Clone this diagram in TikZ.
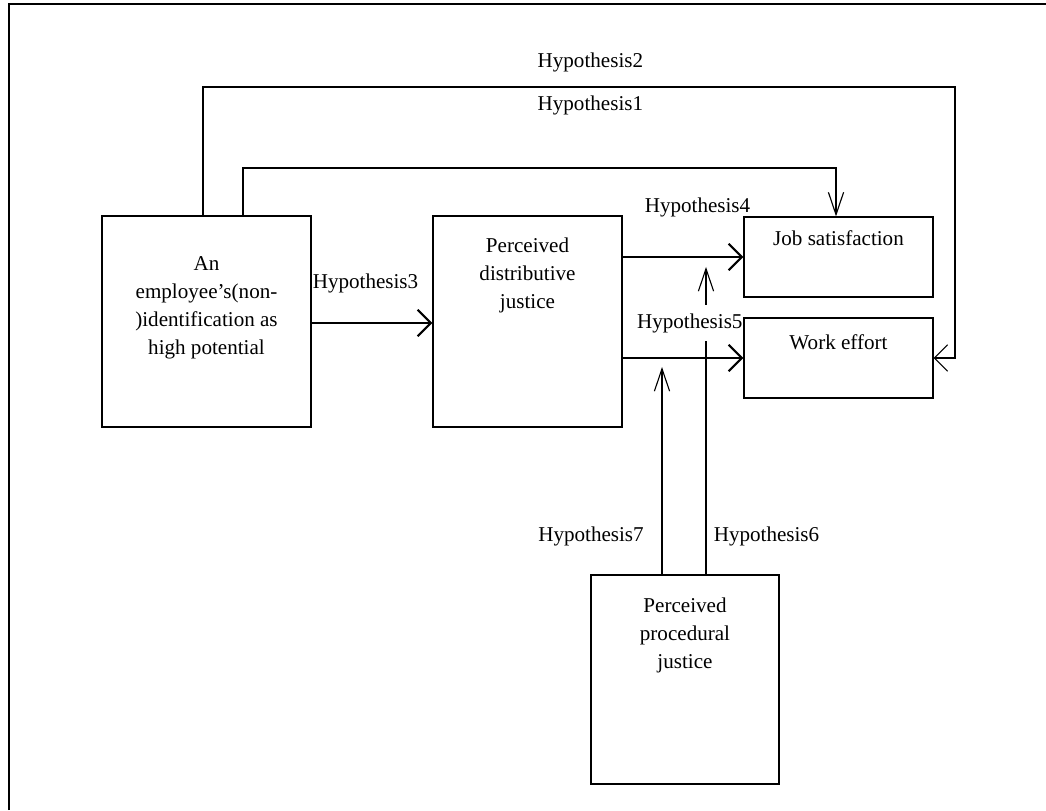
\documentclass[tikz,border=0pt]{standalone}
\usepackage{fontspec}
\setmainfont{Liberation Serif}
\usetikzlibrary{arrows.meta, calc}
\tikzset{
    blk/.style={draw, line width=0.8pt, inner sep=0pt},
    txt/.style={anchor=north, align=center, inner sep=0pt, font=\fontsize{15}{20}\selectfont},
    hyp/.style={inner sep=0pt, font=\fontsize{15}{20}\selectfont},
    lnk/.style={line width=0.8pt},
    blnk/.style={line width=1.6pt},
    wide/.style={-{Straight Barb[length=3.3mm, width=6.6mm]}},
    slim/.style={-{Straight Barb[length=5.6mm, width=3.8mm]}}
}
\begin{document}
\begin{tikzpicture}
    \useasboundingbox (0,0) rectangle (26.15,20.25);
    \draw[line width=1.1pt] (0.225,0) -- (0.225,20.15) -- (26.15,20.15);

    \node[blk, minimum width=5.225cm, minimum height=5.275cm] (emp) at (5.1625,12.2125) {};
    \node[blk, minimum width=4.725cm, minimum height=5.275cm] (dist) at (13.1875,12.2125) {};
    \node[blk, minimum width=4.725cm, minimum height=2cm] (js) at (20.9625,13.825) {};
    \node[blk, minimum width=4.725cm, minimum height=2cm] (we) at (20.9625,11.3) {};
    \node[blk, minimum width=4.7cm, minimum height=5.225cm] (proc) at (17.125,3.2625) {};

    \node[txt] (emp-t) at ([yshift=-1.025cm]emp.north) {An\\employee’s(non-\\)identification as\\high potential};
    \node[txt] (dist-t) at ([yshift=-0.55cm]dist.north) {Perceived\\distributive\\justice};
    \node[txt] (js-t) at ([yshift=-0.35cm]js.north) {Job satisfaction};
    \node[txt] (we-t) at ([yshift=-0.42cm]we.north) {Work effort};
    \node[txt] (proc-t) at ([yshift=-0.575cm]proc.north) {Perceived\\procedural\\justice};

    \coordinate (h2a) at (5.075,14.85);
    \coordinate (h2b) at (23.875,18.075);
    \coordinate (h1a) at (6.075,14.85);
    \coordinate (h1b) at (20.9,16.05);
    \coordinate (h3a) at (7.775,12.175);
    \coordinate (h6) at (17.65,13.575);
    \coordinate (h7) at (16.55,11.075);

    % direct paths
    \draw[lnk, wide] (h2a) |- (h2b) |- (we);
    \draw[lnk, slim] (h1a) |- (h1b) -- (h1b |- js.north);
    \draw[blnk, wide] (h3a) -- (h3a -| dist.west);
    \draw[blnk, wide] (dist.east |- js) -- (js);
    \draw[blnk, wide] (dist.east |- we) -- (we);

    % moderators
    \draw[lnk, slim] (h6 |- proc.north) -- (h6);
    \draw[lnk, slim] (h7 |- proc.north) -- (h7);

    \node[hyp] (l2) at (14.76,18.7) {Hypothesis2};
    \node[hyp] (l1) at (14.76,17.625) {Hypothesis1};
    \node[hyp] (l3) at (9.1375,13.175) {Hypothesis3};
    \node[hyp] (l4) at (17.4375,15.075) {Hypothesis4};
    \node[hyp, fill=white, inner ysep=0.2cm, anchor=east] (l5) at (18.57,12.175) {Hypothesis5};
    \node[hyp] (l7) at (14.775,6.85) {Hypothesis7};
    \node[hyp] (l6) at (19.1625,6.85) {Hypothesis6};
\end{tikzpicture}
\end{document}
